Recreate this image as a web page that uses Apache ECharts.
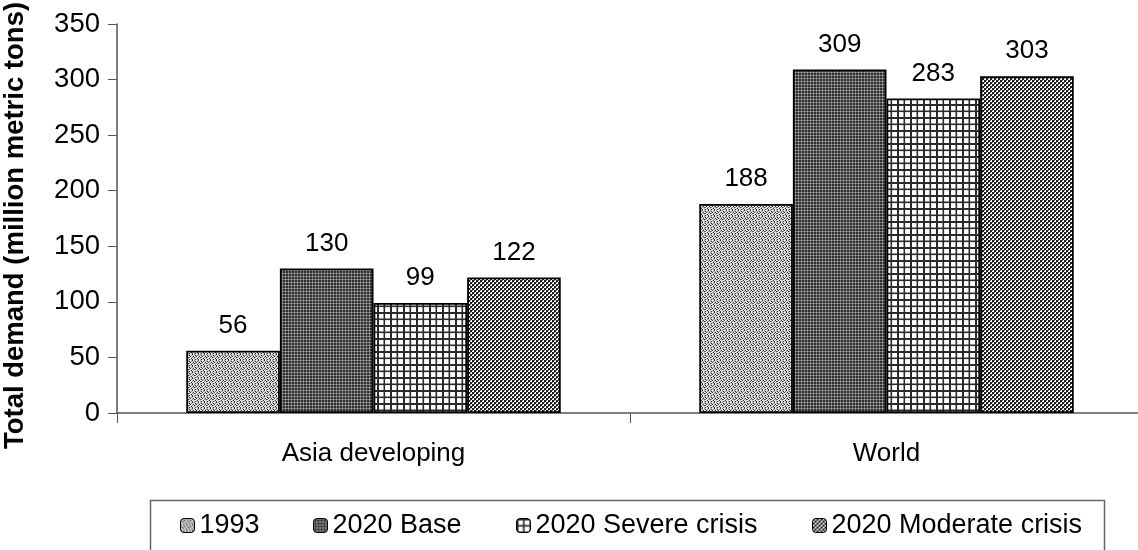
<!DOCTYPE html>
<html>
<head>
<meta charset="utf-8">
<script src="https://cdn.jsdelivr.net/npm/echarts@6/dist/echarts.min.js"></script>
<style>
  html, body { margin: 0; padding: 0; background: #fff; }
  #chart { width: 1138px; height: 550px; }
</style>
</head>
<body>
<div id="chart"></div>
<script>
// Demand data (million metric tons)
const categories = ['Asia developing', 'World'];
const seriesNames = ['1993', '2020 Base', '2020 Severe crisis', '2020 Moderate crisis'];
const values1993 = [56, 188];
const valuesBase = [130, 309];
const valuesSevere = [99, 283];
const valuesModerate = [122, 303];
const yTicks = { min: 0, max: 350, interval: 50 };

// Fill patterns drawn onto small tiles
function tile(w, h, draw) {
  const c = document.createElement('canvas');
  c.width = w; c.height = h;
  const g = c.getContext('2d');
  draw(g);
  return { image: c, repeat: 'repeat' };
}
function px(g, color, cells) {
  g.fillStyle = color;
  cells.forEach(([x, y]) => g.fillRect(x, y, 1, 1));
}
const pat1993 = tile(6, 6, g => {
  g.fillStyle = '#c8c8c8'; g.fillRect(0, 0, 6, 6);
  px(g, '#ffffff', [[1, 0], [4, 0], [2, 2], [5, 2], [0, 4], [3, 4], [1, 5], [4, 3]]);
  px(g, '#2e2e2e', [[0, 0], [3, 1], [1, 2], [4, 2], [2, 3], [5, 4], [0, 5], [3, 5]]);
  px(g, '#8c8c8c', [[2, 0], [5, 1], [0, 3], [3, 3]]);
});
const patBase = tile(3, 3, g => {
  g.fillStyle = '#2e2e2e'; g.fillRect(0, 0, 3, 3);
  g.fillStyle = '#7a7a7a'; g.fillRect(0, 0, 1, 3); g.fillRect(0, 0, 3, 1);
  g.fillStyle = '#a0a0a0'; g.fillRect(0, 0, 1, 1);
});
const patSevere = tile(13, 13, g => {
  g.fillStyle = '#ffffff'; g.fillRect(0, 0, 13, 13);
  g.fillStyle = '#2a2a2a';
  g.fillRect(0, 0, 2, 13); g.fillRect(6.5, 0, 1.6, 13);
  g.fillRect(0, 0, 13, 2); g.fillRect(0, 6.5, 13, 1.6);
});
const patModerate = tile(4, 4, g => {
  g.fillStyle = '#ffffff'; g.fillRect(0, 0, 4, 4);
  g.fillStyle = '#1e1e1e'; g.fillRect(0, 0, 2, 2); g.fillRect(2, 2, 2, 2);
  g.fillStyle = '#7a7a7a'; g.fillRect(2, 0, 1, 1); g.fillRect(0, 2, 1, 1);
});
const patterns = [pat1993, patBase, patSevere, patModerate];
const allValues = [values1993, valuesBase, valuesSevere, valuesModerate];

const font = 'Liberation Sans, Arial, sans-serif';
const legendLefts = [180, 313, 516, 812];

const chart = echarts.init(document.getElementById('chart'), null, { renderer: 'canvas' });
chart.setOption({
  backgroundColor: '#ffffff',
  animation: false,
  textStyle: { fontFamily: font },
  grid: { left: 117, right: -5, top: 24, bottom: 137, containLabel: false, outerBoundsMode: 'none' },
  legend: seriesNames.map((n, i) => ({
    data: [n],
    left: legendLefts[i],
    top: 512,
    itemWidth: 14,
    itemHeight: 14,
    itemGap: 0,
    padding: 0,
    selectedMode: false,
    itemStyle: { borderColor: '#000', borderWidth: 1 },
    textStyle: { fontSize: 27, color: '#000', fontFamily: font }
  })),
  graphic: [{
    type: 'rect',
    shape: { x: 150.5, y: 500.5, width: 954, height: 80 },
    style: { fill: 'none', stroke: '#666', lineWidth: 1.5 },
    z: -1
  }],
  xAxis: {
    type: 'category',
    data: categories,
    axisLine: { lineStyle: { color: '#555', width: 1.5 } },
    axisTick: { show: true, length: 10, lineStyle: { color: '#555' } },
    axisLabel: { fontSize: 26, color: '#000', margin: 28, fontFamily: font }
  },
  yAxis: {
    type: 'value',
    min: yTicks.min, max: yTicks.max, interval: yTicks.interval,
    name: 'Total demand (million metric tons)',
    nameLocation: 'middle',
    nameGap: 88,
    nameTextStyle: {
      fontSize: 27.5, fontWeight: 'bold', color: '#000', fontFamily: font,
      padding: [0, 14, 0, 0]
    },
    axisLine: { show: true, lineStyle: { color: '#555', width: 1.5 } },
    axisTick: { show: true, length: 9, lineStyle: { color: '#555' } },
    axisLabel: { fontSize: 27.5, color: '#000', margin: 17, fontFamily: font },
    splitLine: { show: false }
  },
  series: seriesNames.map((n, i) => ({
    name: n,
    type: 'bar',
    data: allValues[i],
    barGap: '0%',
    barCategoryGap: '27%',
    itemStyle: { color: patterns[i], borderColor: '#000', borderWidth: 1.8 },
    label: { show: true, position: 'top', distance: 12, fontSize: 26, color: '#000', fontFamily: font }
  }))
});
</script>
</body>
</html>
